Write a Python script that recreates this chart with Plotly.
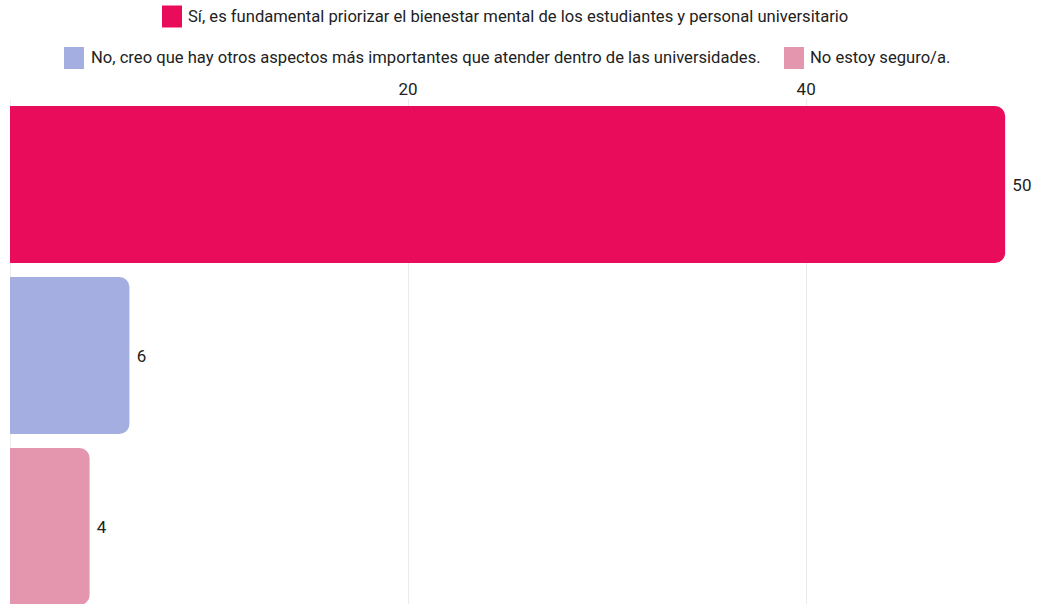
import plotly.graph_objects as go

categories = [
    "Sí, es fundamental priorizar el bienestar mental de los estudiantes y personal universitario",
    "No, creo que hay otros aspectos más importantes que atender dentro de las universidades.",
    "No estoy seguro/a.",
]
values = [50, 6, 4]
colors = ["#E90C5A", "#A4AEE0", "#E496AF"]
positions = [0, 1, 2]
tick_values = [20, 40]
tick_labels = ["20", "40"]

FONT = "Roboto"
TEXT_COLOR = "#222222"

# figure geometry (pixels)
W, H = 1038, 604
ML, MR, MT, MB = 10, 3, 99, 0
PW, PH = W - ML - MR, H - MT - MB


def px_x(px):
    return (px - ML) / PW


def px_y(py):
    return 1 + (MT - py) / PH


fig = go.Figure()
for name, val, col, pos in zip(categories, values, colors, positions):
    fig.add_trace(go.Bar(
        x=[val], y=[pos], name=name, orientation="h",
        marker=dict(color=col, line=dict(width=0)),
        width=0.918,
        texttemplate="\u00a0%{x}", textposition="outside",
        textfont=dict(family=FONT, size=17, color=TEXT_COLOR),
        cliponaxis=False,
        showlegend=False,
    ))

# legend: swatch left edge, text left edge, row centre (pixels)
legend_rows = [
    (162, 186, 16.5),
    (64, 89, 58),
    (784, 808, 58),
]
shapes = [dict(type="line", xref="x", yref="paper", x0=0, x1=0, y0=0, y1=1,
               line=dict(color="#DDDDDD", width=1), layer="below")]
annotations = []
for name, col, (sx, tx, cy) in zip(categories, colors, legend_rows):
    shapes.append(dict(type="rect", xref="paper", yref="paper",
                       xsizemode="pixel", ysizemode="pixel",
                       xanchor=px_x(sx), yanchor=px_y(cy),
                       x0=0, x1=20, y0=-11, y1=11,
                       fillcolor=col, line=dict(width=0)))
    annotations.append(dict(xref="paper", yref="paper", x=px_x(tx), y=px_y(cy),
                            xanchor="left", yanchor="middle", showarrow=False,
                            text=name, font=dict(family=FONT, size=16.6, color=TEXT_COLOR)))

fig.update_layout(
    width=W, height=H,
    margin=dict(l=ML, r=MR, t=MT, b=MB),
    paper_bgcolor="white", plot_bgcolor="white",
    barcornerradius=10,
    font=dict(family=FONT, size=17, color=TEXT_COLOR),
    showlegend=False,
    xaxis=dict(side="top", range=[0, 51.5], tickvals=tick_values, ticktext=tick_labels,
               showgrid=True, gridcolor="#EBEBEB", gridwidth=1,
               zeroline=False, showline=False, ticks="",
               tickfont=dict(family=FONT, size=17, color=TEXT_COLOR)),
    yaxis=dict(range=[2.453, -0.5], showticklabels=False, showgrid=False,
               zeroline=False, showline=False, ticks=""),
    shapes=shapes,
    annotations=annotations,
)

fig.write_html("out.html")
